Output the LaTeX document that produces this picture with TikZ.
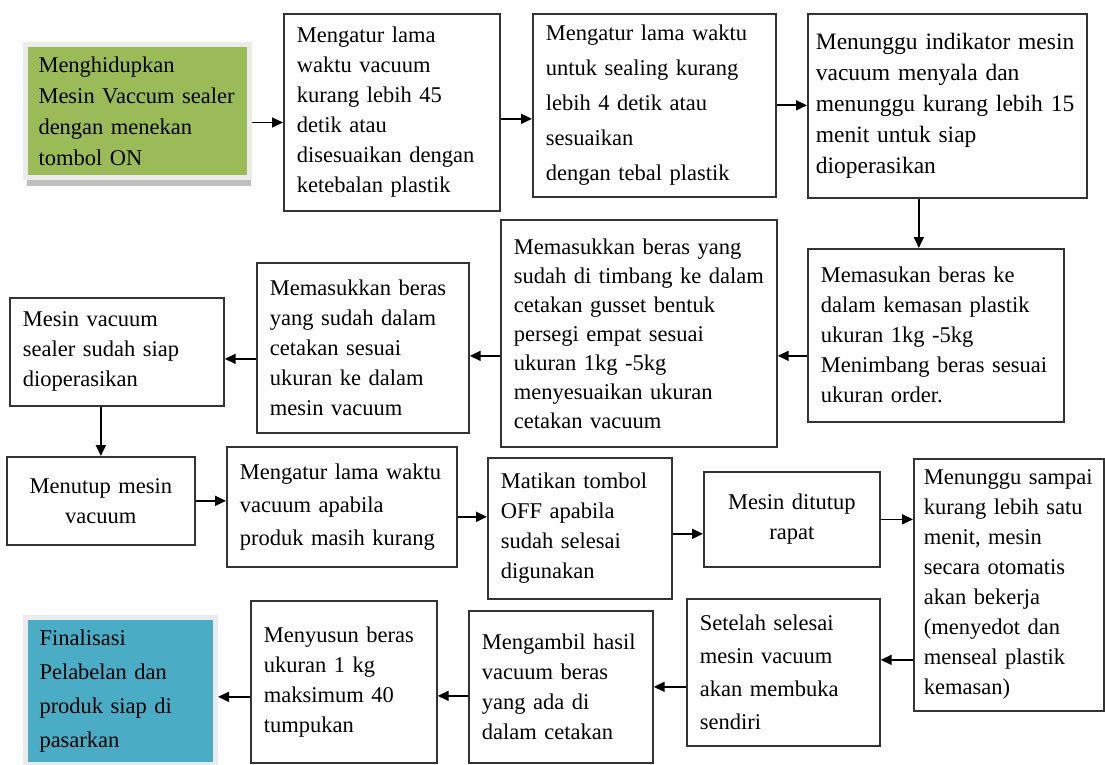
\documentclass[tikz,border=0pt]{standalone}
\usepackage{fontspec}
\setmainfont{Liberation Serif}
\usetikzlibrary{arrows.meta, shadows}
\definecolor{olivegreen}{HTML}{9BBB59}
\definecolor{aquablue}{HTML}{4BACC6}

\begin{document}
\begin{tikzpicture}[x=1pt, y=-1pt, line width=1.7pt, >={Triangle[length=11pt, width=10pt]},
    stepbox/.style={draw=black!80, anchor=north west, align=left, inner xsep=13pt, inner ysep=0pt,
        font=\fontsize{22.5}{30}\selectfont},
    colorbox/.style={stepbox, draw=black!8, line width=5pt,
        drop shadow={shadow xshift=1pt, shadow yshift=-8pt, fill=black!25, opacity=1}}]
                \useasboundingbox (0,0) rectangle (1105,765);

                % top row
                \node [colorbox, fill=olivegreen, inner xsep=13pt, text width=198pt, minimum height=133pt, font=\fontsize{22.5}{31}\selectfont] (start) at (23,42) {Menghidupkan\\Mesin Vaccum sealer\\dengan menekan\\tombol ON};
                \node [stepbox, text width=190pt, minimum height=197pt] (vac) at (283,13) {Mengatur lama\\waktu vacuum\\kurang lebih 45\\detik atau\\disesuaikan dengan\\ketebalan plastik};
                \node [stepbox, text width=217pt, minimum height=183pt, font=\fontsize{22.5}{35}\selectfont] (seal) at (532,13) {Mengatur lama waktu\\untuk sealing kurang\\lebih 4 detik atau\\sesuaikan\\dengan tebal plastik};
                \node [stepbox, inner xsep=8pt, text width=263pt, minimum height=184pt, font=\fontsize{23.5}{31}\selectfont] (ready) at (807,13) {Menunggu indikator mesin\\vacuum menyala dan\\menunggu kurang lebih 15\\menit untuk siap\\dioperasikan};

                % second row
                \node [stepbox, text width=230pt, minimum height=173pt] (pack) at (807,248) {Memasukan beras ke\\dalam kemasan plastik\\ukuran 1kg -5kg\\Menimbang beras sesuai\\ukuran order.};
                \node [stepbox, text width=250pt, minimum height=227pt, font=\fontsize{22.5}{29}\selectfont] (mould) at (500,219) {Memasukkan beras yang\\sudah di timbang ke dalam\\cetakan gusset bentuk\\persegi empat sesuai\\ukuran 1kg -5kg\\menyesuaikan ukuran\\cetakan vacuum};
                \node [stepbox, text width=186pt, minimum height=170pt] (insert) at (256,262) {Memasukkan beras\\yang sudah dalam\\cetakan sesuai\\ukuran ke dalam\\mesin vacuum};
                \node [stepbox, text width=188pt, minimum height=108pt] (prep) at (9,297) {Mesin vacuum\\sealer sudah siap\\dioperasikan};

                % third row
                \node [stepbox, align=center, text width=162pt, minimum height=88pt] (close) at (6,456) {Menutup mesin\\vacuum};
                \node [stepbox, text width=204pt, minimum height=120pt, font=\fontsize{22.5}{33}\selectfont] (adjust) at (226,446) {Mengatur lama waktu\\vacuum apabila\\produk masih kurang};
                \node [stepbox, text width=158pt, minimum height=141pt] (off) at (487,457) {Matikan tombol\\OFF apabila\\sudah selesai\\digunakan};
                \node [stepbox, align=center, text width=150pt, minimum height=95pt] (shut) at (703,471) {Mesin ditutup\\rapat};
                \node [stepbox, inner xsep=10pt, text width=170pt, minimum height=252pt] (wait) at (913,458) {Menunggu sampai\\kurang lebih satu\\menit, mesin\\secara otomatis\\akan bekerja\\(menyedot dan\\menseal plastik\\kemasan)};

                % bottom row
                \node [stepbox, text width=167pt, minimum height=147pt, font=\fontsize{22.5}{33}\selectfont] (open) at (686,598) {Setelah selesai\\mesin vacuum\\akan membuka\\sendiri};
                \node [stepbox, text width=158pt, minimum height=152pt] (take) at (468,610) {Mengambil hasil\\vacuum beras\\yang ada di\\dalam cetakan};
                \node [stepbox, text width=160pt, minimum height=162pt] (stack) at (250,600) {Menyusun beras\\ukuran 1 kg\\maksimum 40\\tumpukan};
                \node [colorbox, fill=aquablue, inner xsep=14pt, text width=162pt, minimum height=147pt, font=\fontsize{22.5}{34}\selectfont] (final) at (23,615) {Finalisasi\\Pelabelan dan\\produk siap di\\pasarkan};

                \draw [->] ([yshift=-11.5pt]start.east) -- ([yshift=-11.5pt]start.east -| vac.west);
                \draw [->] ([yshift=-6.5pt]vac.east) -- ([yshift=-6.5pt]vac.east -| seal.west);
                \draw [->] (seal.east) -- (seal.east -| ready.west);
                \draw [->] ([xshift=-28.5pt]ready.south) -- ([xshift=-28.5pt]ready.south |- pack.north);

                \draw [->] ([yshift=-20.5pt]pack.west) -- ([yshift=-20.5pt]pack.west -| mould.east);
                \draw [->] ([yshift=-22.5pt]mould.west) -- ([yshift=-22.5pt]mould.west -| insert.east);
                \draw [->] ([yshift=-11pt]insert.west) -- ([yshift=-11pt]insert.west -| prep.east);
                \draw [->] (close.north |- prep.south) -- (close.north);

                \draw [->] (close.east) -- (close.east -| adjust.west);
                \draw [->] ([yshift=-10pt]adjust.east) -- ([yshift=-10pt]adjust.east -| off.west);
                \draw [->] ([yshift=-5.5pt]off.east) -- ([yshift=-5.5pt]off.east -| shut.west);
                \draw [->] (shut.east) -- (shut.east -| wait.west);

                \draw [->] ([yshift=12.5pt]open.east -| wait.west) -- ([yshift=12.5pt]open.east);
                \draw [->] (take.east -| open.west) -- (take.east);
                \draw [->] ([yshift=-9pt]take.west) -- ([yshift=-9pt]take.west -| stack.east);
                \draw [->] ([yshift=-15pt]stack.west) -- ([yshift=-15pt]stack.west -| final.east);
            \end{tikzpicture}
\end{document}
